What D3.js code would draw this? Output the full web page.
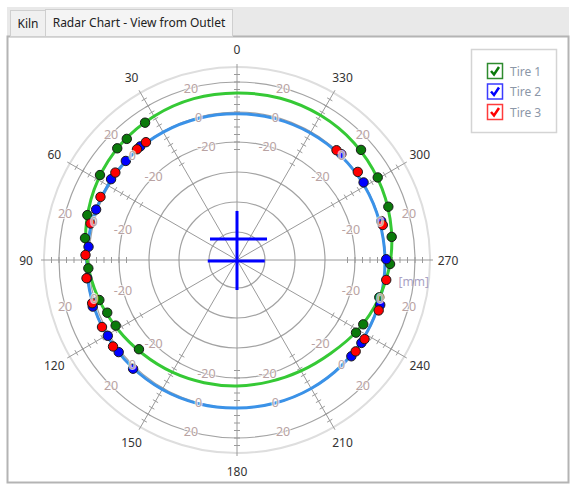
<!DOCTYPE html>
<html>
<head>
<meta charset="utf-8">
<script src="https://cdn.jsdelivr.net/npm/d3@7/dist/d3.min.js"></script>
<style>
  body { margin: 0; background: #fff; }
  text { font-family: "Noto Sans", "Open Sans", sans-serif; }
</style>
</head>
<body>
<div id="chart"></div>
<script>
// angle labels (deg, counter-clockwise from top)
const angleLabels = [0, 30, 60, 90, 120, 150, 180, 210, 240, 270, 300, 330];
// grid rings [mm]
const ringValues = [-80, -60, -40, -20, 0, 20];
const outerRing = 30;
const ringLabels = [20, 0, -20];
const tickValues = [-25, -20, -15, -10, -5, 0, 5, 10, 15, 20, 25];

// fitted tire lines, one value [mm] every 15 deg
const lineAngles = [0, 15, 30, 45, 60, 75, 90, 105, 120, 135, 150, 165, 180, 195, 210, 225, 240, 255, 270, 285, 300, 315, 330, 345];
const tire1Line = [12.7, 12.7, 12, 10.7, 8.3, 5, 1.3, -2.7, -6.7, -10, -12.3, -14, -14.7, -14.7, -13.3, -10.5, -5.5, -0.7, 3.7, 7, 9.7, 11.7, 12.7, 13];
const tire2Line = [-1.2, -0.8, -0.2, 0.4, 0.8, 1.2, 1.5, 1.7, 1.6, 1.3, 1, 0.5, 0, 0, 0.2, 0.4, 0.5, 0.3, 0, -0.3, -0.4, -0.6, -0.9, -1.1];
const tire3Line = [-0.9, -0.5, 0.1, 0.7, 1.1, 1.5, 1.8, 2, 1.9, 1.6, 1.2, 0.7, 0.3, 0.3, 0.5, 0.7, 0.8, 0.6, 0.3, 0, -0.1, -0.3, -0.6, -0.8];

// measured points: angle [deg], deviation [mm]
const tire1Angles = [33.8, 42.3, 47.0, 58.2, 73.3, 81.8, 93.2, 106.2, 112.1, 118.4, 132.3, 311.6, 300.4, 289.4, 278.5, 268.5, 255.3, 243, 238.6];
const tire1Values = [11.5, 10.5, 10.5, 8.8, 5.5, 3.7, 0.6, -3.1, -5.3, -6.7, -10.3, 11.9, 10.1, 8.3, 5.6, 3.4, -0.6, -4.2, -5.7];
const tire2Angles = [40.4, 48.3, 57.3, 70.3, 84.9, 96.9, 107.9, 120.4, 127.9, 136.3, 315.4, 301.5, 285.1, 270.3, 252.6, 236.3, 229.9];
const tire2Values = [0.8, 0.6, 1.1, 1.1, 0.7, 1.9, 2.4, 1.2, 1.3, 1.6, 0.4, 0.3, 0.9, 0.8, 1.4, 1.0, 1.0];
const tire3Angles = [37.7, 42.1, 54.3, 65.2, 76.0, 88.1, 96.9, 106.6, 116.4, 124.9, 317.8, 306.1, 283.5, 262.4, 250.4, 238.2, 232.4];
const tire3Values = [0.6, 0.8, 1.2, 1.6, 2.0, 2.4, 2.4, 2.1, 1.8, 2.1, 0.1, 1.0, 1.3, 1.7, 1.6, 1.4, 1.2];

// center marker segments [mm] (x1, y1, x2, y2)
const crossSegments = [[0, 32.7, 0, -20], [-18, 14, 20, 14], [-19.5, -0.7, 18.5, -0.7]];

const legendNames = ["Tire 1", "Tire 2", "Tire 3"];
const markerColors = ["#0a7a0a", "#0000ff", "#ff0000"];
const boxColors = ["#2e8b2e", "#3b3bff", "#ff3b3b"];

const W = 570, H = 485;
const cx = 237, cy = 260;

const svg = d3.select("#chart").append("svg")
  .attr("width", W).attr("height", H);

// window frame + tabs
svg.append("rect").attr("x", 7).attr("y", 7).attr("width", 562).attr("height", 30).attr("fill", "#e9e9e9");
svg.append("rect").attr("x", 7.5).attr("y", 36.5).attr("width", 561).attr("height", 446)
  .attr("fill", "#fff").attr("stroke", "#b4b4b4").attr("stroke-width", 2);
svg.append("rect").attr("x", 10.5).attr("y", 10.5).attr("width", 35).attr("height", 26)
  .attr("fill", "#f0f0f0").attr("stroke", "#cfcfcf");
svg.append("rect").attr("x", 45.5).attr("y", 9.5).attr("width", 187).attr("height", 27)
  .attr("fill", "#f4f4f4").attr("stroke", "#cfcfcf");
svg.append("text").attr("x", 28).attr("y", 28).attr("text-anchor", "middle")
  .attr("font-size", 12).attr("fill", "#222").text("Kiln");
svg.append("text").attr("x", 139).attr("y", 27).attr("text-anchor", "middle")
  .attr("font-size", 12).attr("fill", "#222").text("Radar Chart - View from Outlet");

// radial scale: 1.5 px per mm
const rScale = d3.scaleLinear().domain([-80, 30]).range([28, 193]);
const rad = a => a * Math.PI / 180;
const px = (a, r) => cx - r * Math.sin(rad(a));
const py = (a, r) => cy - r * Math.cos(rad(a));

const g = svg.append("g");

// rings
g.selectAll(".ring").data(ringValues).enter().append("circle")
  .attr("cx", cx).attr("cy", cy).attr("r", d => rScale(d))
  .attr("fill", "none").attr("stroke", "#a3a3a3").attr("stroke-width", 1.2);
g.append("circle").attr("cx", cx).attr("cy", cy).attr("r", rScale(outerRing))
  .attr("fill", "none").attr("stroke", "#dedede").attr("stroke-width", 2);

// spokes
g.selectAll(".spoke").data(angleLabels).enter().append("line")
  .attr("x1", cx).attr("y1", cy)
  .attr("x2", d => px(d, rScale(32))).attr("y2", d => py(d, rScale(32)))
  .attr("stroke", "#9a9a9a").attr("stroke-width", 1);

// ticks on spokes
const tickData = [];
angleLabels.forEach(a => tickValues.forEach(v => tickData.push({ a, v })));
g.selectAll(".tick").data(tickData).enter().append("line")
  .attr("x1", d => px(d.a, rScale(d.v)) + 3 * Math.cos(rad(d.a)))
  .attr("y1", d => py(d.a, rScale(d.v)) - 3 * Math.sin(rad(d.a)))
  .attr("x2", d => px(d.a, rScale(d.v)) - 3 * Math.cos(rad(d.a)))
  .attr("y2", d => py(d.a, rScale(d.v)) + 3 * Math.sin(rad(d.a)))
  .attr("stroke", "#9a9a9a").attr("stroke-width", 1);

// tire lines
const radial = d3.lineRadial()
  .angle(d => -rad(d[0]))
  .radius(d => rScale(d[1]))
  .curve(d3.curveCatmullRomClosed);
const lineG = g.append("g").attr("transform", `translate(${cx},${cy})`);
lineG.append("path").datum(lineAngles.map((a, i) => [a, tire3Line[i]]))
  .attr("d", radial).attr("fill", "none").attr("stroke", "#ff6a3d").attr("stroke-width", 1.2);
lineG.append("path").datum(lineAngles.map((a, i) => [a, tire2Line[i]]))
  .attr("d", radial).attr("fill", "none").attr("stroke", "#3a92e8").attr("stroke-width", 3);
lineG.append("path").datum(lineAngles.map((a, i) => [a, tire1Line[i]]))
  .attr("d", radial).attr("fill", "none").attr("stroke", "#35c935").attr("stroke-width", 3);

// markers
const series = [
  { angles: tire1Angles, values: tire1Values },
  { angles: tire2Angles, values: tire2Values },
  { angles: tire3Angles, values: tire3Values }
];
series.forEach((s, k) => {
  g.selectAll(".m" + k).data(s.angles.map((a, i) => [a, s.values[i]])).enter().append("circle")
    .attr("cx", d => px(d[0], rScale(d[1])))
    .attr("cy", d => py(d[0], rScale(d[1])))
    .attr("r", 4.7)
    .attr("fill", markerColors[k]).attr("stroke", "#1a1a1a").attr("stroke-width", 1);
});

// ring labels along the 15 deg offsets
const ringLabelData = [];
angleLabels.forEach(a => ringLabels.forEach(v => ringLabelData.push({ a: a + 15, v })));
g.selectAll(".rl").data(ringLabelData).enter().append("text")
  .attr("x", d => px(d.a, rScale(d.v)))
  .attr("y", d => py(d.a, rScale(d.v)))
  .attr("text-anchor", "middle").attr("dominant-baseline", "central")
  .attr("font-size", 12.5)
  .attr("fill", "#b9a3a3").attr("stroke", "#fff").attr("stroke-width", 2)
  .attr("stroke-opacity", 0.7).attr("paint-order", "stroke")
  .text(d => d.v);

// angle labels
g.selectAll(".al").data(angleLabels).enter().append("text")
  .attr("x", d => px(d, 211)).attr("y", d => py(d, 211))
  .attr("text-anchor", "middle").attr("dominant-baseline", "central")
  .attr("font-size", 12).attr("fill", "#333")
  .text(d => d);

// unit
g.append("text").attr("x", px(263, rScale(20))).attr("y", py(263, rScale(20)))
  .attr("text-anchor", "middle").attr("dominant-baseline", "central")
  .attr("font-size", 12).attr("fill", "#a9a2c4").text("[mm]");

// center cross
const cScale = d3.scaleLinear().domain([0, 1]).range([0, 1.5]);
g.selectAll(".cross").data(crossSegments).enter().append("line")
  .attr("x1", d => cx + cScale(d[0])).attr("y1", d => cy - cScale(d[1]))
  .attr("x2", d => cx + cScale(d[2])).attr("y2", d => cy - cScale(d[3]))
  .attr("stroke", "#0000ff").attr("stroke-width", 3);

// legend
const lg = svg.append("g");
lg.append("rect").attr("x", 471.5).attr("y", 49.5).attr("width", 85).attr("height", 83)
  .attr("fill", "#fff").attr("stroke", "#d4d4d4").attr("stroke-width", 1.5);
const items = lg.selectAll(".li").data(legendNames).enter().append("g")
  .attr("transform", (d, i) => `translate(487,${63 + i * 20.5})`);
items.append("rect").attr("x", 0.5).attr("y", 0.5).attr("width", 15).attr("height", 15)
  .attr("fill", "#fff").attr("stroke", (d, i) => boxColors[i]).attr("stroke-width", 1.5);
items.append("path").attr("d", "M4,8 L7,11.5 L12,4")
  .attr("fill", "none").attr("stroke", (d, i) => markerColors[i]).attr("stroke-width", 2.5);
items.append("text").attr("x", 23).attr("y", 12.5)
  .attr("font-size", 12).attr("fill", "#8c97a8").text(d => d);
</script>
</body>
</html>
